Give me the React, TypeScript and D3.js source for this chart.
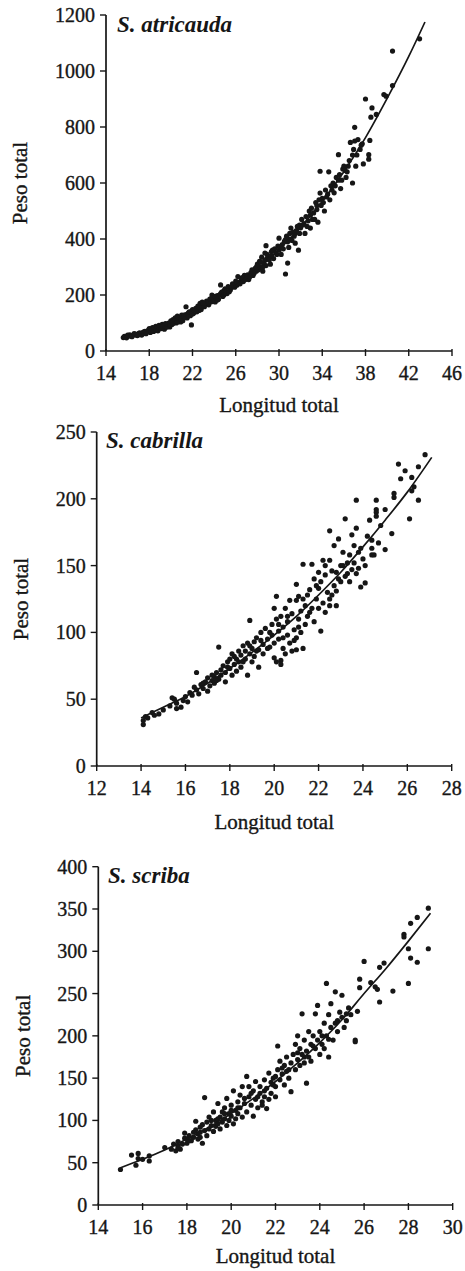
import React from 'react';
import * as d3 from 'd3';

// ---------- DATA ----------
const titles = ['S. atricauda', 'S. cabrilla', 'S. scriba'];
const xTitle = 'Longitud total';
const yTitle = 'Peso total';

const atricaudaXTicks = [14, 18, 22, 26, 30, 34, 38, 42, 46];
const atricaudaYTicks = [0, 200, 400, 600, 800, 1000, 1200];
const cabrillaXTicks = [12, 14, 16, 18, 20, 22, 24, 26, 28];
const cabrillaYTicks = [0, 50, 100, 150, 200, 250];
const scribaXTicks = [14, 16, 18, 20, 22, 24, 26, 28, 30];
const scribaYTicks = [0, 50, 100, 150, 200, 250, 300, 350, 400];

const atricaudaCurveL = [15.5, 18, 20, 22, 24, 26, 28, 30, 32, 34, 36, 38, 40, 42, 43.5];
const atricaudaCurveW = [48, 76, 105, 140, 183, 233, 293, 362, 442, 534, 640, 762, 902, 1052, 1175];

const cabrillaCurveL = [14, 15, 16, 17, 18, 19, 20, 21, 22, 23, 24, 25, 26, 27.1];
const cabrillaCurveW = [36, 44, 52, 62, 73, 85, 98, 112, 128, 145, 164, 184, 205, 231];

const scribaCurveL = [15, 16, 17, 18, 19, 20, 21, 22, 23, 24, 25, 26, 27, 28, 29];
const scribaCurveW = [44, 54, 65, 78, 92, 108, 126, 146, 168, 192, 219, 250, 280, 312, 345];

const atricaudaPoints: [number, number][] = [
  [15.6, 48], [15.8, 50], [16.0, 52], [16.1, 55], [16.3, 54], [16.2, 58], [16.5, 56], [16.7, 60], [16.8, 57], [17.0, 62],
  [17.1, 65], [17.2, 60], [17.4, 66], [17.5, 63], [17.6, 70], [17.8, 68],
  [18.0, 72], [18.0, 80], [18.1, 66], [18.2, 75], [18.3, 84], [18.4, 70], [18.5, 78], [18.6, 88], [18.7, 74], [18.8, 82],
  [18.9, 92], [19.0, 80], [19.1, 86], [19.2, 95], [19.3, 88], [19.4, 78], [19.5, 98], [19.6, 92], [19.8, 100], [19.9, 86],
  [20.0, 108], [20.1, 95], [20.2, 112], [20.3, 102], [20.4, 118], [20.5, 100], [20.6, 125], [20.7, 110], [20.8, 120], [20.9, 104],
  [21.0, 128], [21.1, 115], [21.2, 122], [21.4, 130], [21.4, 158], [21.5, 118], [21.6, 135], [21.8, 126], [21.9, 93], [21.9, 142],
  [22.0, 148], [22.1, 135], [22.3, 152], [22.4, 140], [22.5, 160], [22.6, 145], [22.7, 170], [22.8, 155], [22.9, 175], [23.0, 162],
  [23.2, 168], [23.3, 178], [23.5, 165], [23.6, 185], [23.8, 200], [23.9, 178],
  [24.0, 190], [24.1, 175], [24.3, 198], [24.4, 185], [24.6, 236], [24.6, 205], [24.8, 195], [24.9, 215], [25.0, 222], [25.2, 205],
  [25.3, 230], [25.5, 218], [25.7, 240], [25.9, 228],
  [26.0, 250], [26.1, 235], [26.2, 266], [26.3, 245], [26.5, 258], [26.7, 248], [26.8, 270], [27.0, 262], [27.2, 255], [27.4, 280],
  [27.6, 270], [27.8, 295], [27.9, 285],
  [28.0, 310], [28.1, 290], [28.2, 320], [28.3, 300], [28.4, 335], [28.5, 285], [28.6, 315], [28.7, 350], [28.8, 305], [28.8, 376],
  [28.9, 330], [29.0, 340], [29.2, 310], [29.3, 355], [29.5, 330], [29.6, 365], [29.8, 345], [29.9, 375],
  [30.0, 403], [30.0, 360], [30.2, 345], [30.3, 380], [30.5, 392], [30.6, 275], [30.8, 314], [30.7, 410], [30.9, 370], [31.0, 420],
  [31.1, 439], [31.2, 395], [31.4, 410], [31.5, 385], [31.6, 430], [31.8, 360], [31.9, 450],
  [32.0, 440], [32.1, 470], [32.3, 455], [32.4, 420], [32.5, 480], [32.7, 465], [32.8, 500], [32.9, 439], [33.0, 510], [33.2, 493],
  [33.3, 470], [33.4, 530], [33.5, 505], [33.6, 460], [33.8, 642], [33.8, 564], [33.9, 520],
  [34.0, 545], [34.2, 500], [34.3, 575], [34.5, 560], [34.6, 640], [34.7, 540], [34.8, 590], [35.0, 600], [35.1, 565], [35.3, 620],
  [35.5, 701], [35.5, 610], [35.7, 580], [35.9, 650],
  [36.0, 660], [36.2, 620], [36.3, 640], [36.5, 680], [36.6, 745], [36.8, 600], [36.8, 700], [37.0, 799], [37.0, 750], [37.1, 660],
  [37.3, 755], [37.5, 720], [37.7, 740],
  [37.8, 668], [38.0, 900], [38.3, 701], [38.3, 685], [38.4, 752], [38.5, 835], [38.6, 868], [39.0, 845], [39.7, 916], [39.9, 910],
  [40.5, 948], [40.5, 1071], [43.0, 1115],
  [15.7, 52], [15.9, 47], [16.0, 57], [16.4, 51], [16.6, 62], [16.9, 55], [17.0, 58], [17.3, 63], [17.3, 57], [17.5, 68],
  [17.7, 62], [17.9, 74], [18.1, 78], [18.2, 70], [18.4, 82], [18.6, 76], [18.8, 72], [18.9, 86], [19.1, 80], [19.2, 88],
  [19.4, 92], [19.6, 85], [19.7, 96], [19.9, 94], [20.1, 102], [20.2, 98], [20.4, 108], [20.6, 104], [20.7, 118], [20.9, 114],
  [21.1, 108], [21.2, 128], [21.3, 120], [21.6, 125], [21.7, 140], [22.0, 132], [22.2, 144], [22.4, 150], [22.6, 155], [22.8, 148],
  [23.0, 170], [23.1, 158], [23.4, 172], [23.7, 175], [23.8, 190], [24.1, 195], [24.3, 182], [24.5, 200], [24.7, 210], [24.9, 200],
  [25.1, 214], [25.4, 212], [25.6, 228], [25.8, 235], [26.1, 245], [26.4, 240], [26.6, 262], [26.9, 255], [27.1, 272], [27.3, 265],
  [27.5, 290], [27.7, 278], [27.9, 300], [28.1, 305], [28.3, 318], [28.5, 300], [28.7, 325], [28.9, 345], [29.1, 325], [29.3, 340],
  [29.4, 360], [29.7, 350], [30.1, 372], [30.4, 365], [30.6, 398], [30.8, 390], [31.0, 400], [31.3, 425], [31.5, 420], [31.7, 445],
  [31.9, 420], [32.2, 450], [32.6, 445], [32.9, 485], [33.1, 470], [33.5, 520], [33.7, 540], [34.1, 530], [34.4, 550], [34.9, 575],
  [35.2, 590], [35.6, 630], [35.8, 610], [36.1, 645], [36.4, 660], [36.9, 720], [37.2, 700], [37.6, 735],
];

const cabrillaPoints: [number, number][] = [
  [14.1, 31], [14.1, 34], [14.2, 37], [14.3, 36], [14.5, 40], [14.6, 38], [14.8, 39], [15.0, 42],
  [15.3, 45], [15.4, 51], [15.5, 50], [15.6, 47], [15.6, 43], [15.8, 44], [15.9, 49], [16.0, 52], [16.1, 48],
  [16.2, 55], [16.3, 53], [16.4, 59], [16.5, 70], [16.5, 57], [16.6, 54], [16.7, 61], [16.8, 58], [16.9, 63], [17.0, 56],
  [17.0, 66], [17.1, 60], [17.2, 64],
  [17.3, 67], [17.3, 62], [17.4, 70], [17.5, 65], [17.5, 89], [17.6, 72], [17.6, 68], [17.7, 75], [17.8, 70], [17.8, 63],
  [17.9, 78], [18.0, 73], [18.0, 80], [18.1, 68],
  [18.1, 84], [18.2, 76], [18.3, 80], [18.3, 71], [18.4, 86], [18.4, 78], [18.5, 83], [18.5, 74], [18.6, 90], [18.7, 80],
  [18.7, 86], [18.8, 68], [18.8, 92], [18.9, 109], [18.9, 84], [19.0, 88], [19.0, 78], [19.1, 93],
  [19.1, 82], [19.2, 96], [19.3, 87], [19.3, 74], [19.4, 100], [19.5, 91], [19.5, 84], [19.6, 103], [19.7, 95], [19.8, 89],
  [19.9, 106], [19.9, 98], [20.0, 118], [20.0, 92], [20.0, 81],
  [20.1, 127], [20.1, 110], [20.1, 78], [20.2, 101], [20.2, 95], [20.3, 112], [20.3, 79], [20.3, 76], [20.4, 104], [20.4, 88],
  [20.5, 84], [20.5, 118], [20.6, 98], [20.6, 108], [20.7, 124], [20.7, 92], [20.8, 114], [20.8, 86], [20.9, 102], [21.0, 124],
  [21.0, 136], [21.0, 87], [21.0, 96],
  [21.1, 127], [21.1, 110], [21.2, 116], [21.2, 100], [21.3, 151], [21.3, 88], [21.4, 120], [21.4, 106], [21.5, 128], [21.5, 112],
  [21.6, 132], [21.7, 151], [21.7, 118], [21.8, 140], [21.8, 108], [21.9, 125], [22.0, 145], [22.0, 133],
  [22.1, 101], [22.1, 138], [22.2, 154], [22.2, 122], [22.3, 143], [22.3, 115], [22.4, 130], [22.5, 176], [22.5, 154], [22.5, 125],
  [22.5, 120], [22.6, 146], [22.7, 165], [22.7, 135], [22.8, 131], [22.8, 145], [22.8, 120], [22.9, 170], [23.0, 150], [23.0, 138],
  [23.1, 150], [23.2, 185], [23.2, 142], [23.3, 144], [23.4, 138], [23.4, 158], [23.5, 173], [23.5, 147], [23.6, 152], [23.7, 199],
  [23.7, 178], [23.7, 144], [23.8, 160], [23.9, 163], [23.9, 134], [24.0, 155],
  [24.1, 150], [24.1, 137], [24.3, 184], [24.4, 169], [24.4, 163], [24.4, 158], [24.6, 199], [24.6, 192], [24.6, 190], [24.6, 187],
  [24.7, 167], [25.0, 192], [25.0, 162],
  [25.3, 174], [25.4, 204], [25.4, 201], [25.6, 226], [25.7, 215], [25.9, 221], [26.1, 185], [26.2, 216], [26.2, 206], [26.3, 209],
  [26.5, 224], [26.5, 199], [26.8, 233],
  [16.8, 62], [17.2, 68], [17.4, 64], [17.9, 74], [18.2, 82], [18.6, 78], [18.9, 90], [19.2, 86], [19.4, 94], [19.7, 88],
  [19.8, 100], [20.2, 106], [20.4, 96], [20.6, 112], [20.9, 94], [21.1, 104], [21.3, 125], [21.6, 115], [21.9, 135], [22.0, 118],
  [22.3, 150], [22.6, 128], [22.9, 140], [23.1, 160], [23.3, 152], [23.6, 165], [23.8, 148], [24.2, 172], [24.5, 158], [24.8, 180],
];

const scribaPoints: [number, number][] = [
  [15.0, 42], [15.5, 59], [15.7, 47], [15.8, 61], [15.8, 55], [16.0, 54], [16.3, 58], [16.3, 52], [17.0, 68],
  [17.3, 66], [17.4, 72], [17.5, 64], [17.6, 70], [17.6, 75], [17.7, 66], [17.8, 72], [17.9, 79], [17.9, 85], [18.0, 73],
  [18.0, 78], [18.1, 82], [18.2, 76],
  [18.3, 80], [18.4, 89], [18.4, 99], [18.5, 84], [18.5, 78], [18.6, 92], [18.6, 86], [18.7, 73], [18.7, 95], [18.8, 127],
  [18.8, 88], [18.9, 82], [18.9, 98], [19.0, 90], [19.0, 104], [19.1, 94], [19.2, 87], [19.2, 110], [19.3, 100], [19.3, 93],
  [19.4, 120], [19.4, 96], [19.5, 104], [19.5, 90], [19.6, 110], [19.6, 98], [19.7, 115], [19.7, 102], [19.8, 94], [19.8, 126],
  [19.9, 108], [19.9, 100], [20.0, 118], [20.0, 105], [20.1, 96], [20.1, 135], [20.2, 112], [20.2, 102], [20.3, 122], [20.3, 108],
  [20.4, 130], [20.4, 115], [20.5, 104], [20.5, 140],
  [20.6, 120], [20.7, 152], [20.7, 110], [20.8, 128], [20.8, 140], [20.9, 118], [21.0, 135], [21.0, 105], [21.1, 125], [21.1, 146],
  [21.2, 115], [21.3, 132], [21.3, 140], [21.4, 122], [21.5, 128], [21.5, 148],
  [21.6, 114], [21.6, 138], [21.7, 156], [21.7, 125], [21.8, 145], [21.8, 132], [21.9, 150], [22.0, 140], [22.0, 128], [22.1, 188],
  [22.1, 160], [22.2, 148], [22.2, 170], [22.3, 155], [22.4, 165], [22.4, 142], [22.5, 158], [22.5, 175],
  [22.6, 150], [22.7, 134], [22.7, 168], [22.8, 178], [22.9, 160], [22.9, 190], [23.0, 172], [23.0, 200], [23.1, 165], [23.1, 185],
  [23.2, 226], [23.2, 178], [23.3, 195], [23.3, 168], [23.4, 144], [23.4, 182], [23.5, 205], [23.5, 175],
  [23.6, 190], [23.6, 170], [23.7, 200], [23.8, 185], [23.8, 226], [23.9, 195], [23.9, 236], [24.0, 178], [24.0, 205], [24.1, 190],
  [24.2, 215], [24.2, 185], [24.3, 262], [24.3, 200], [24.4, 175], [24.4, 225], [24.5, 238], [24.5, 210],
  [24.6, 195], [24.7, 252], [24.7, 215], [24.8, 205], [24.9, 228], [25.0, 248], [25.0, 222], [25.1, 210], [25.2, 218], [25.3, 233],
  [25.4, 225], [25.6, 195], [25.6, 193], [25.7, 229],
  [25.8, 267], [25.8, 257], [26.0, 288], [26.3, 263], [26.5, 258], [26.6, 255], [26.7, 281], [26.7, 240], [26.9, 286], [27.3, 253],
  [27.8, 320], [27.8, 317], [28.0, 303], [28.0, 262], [28.1, 333], [28.1, 292], [28.4, 340], [28.4, 287], [28.9, 351], [28.9, 303],
  [17.6, 68], [18.1, 76], [18.3, 86], [18.6, 80], [19.1, 100], [19.4, 102], [19.7, 108], [20.0, 112], [20.3, 115], [20.6, 126],
  [20.9, 132], [21.2, 128], [21.5, 135], [21.9, 142], [22.3, 162], [22.6, 160], [23.0, 180], [23.3, 175], [23.7, 188], [24.1, 200],
  [24.4, 196], [24.8, 218], [25.2, 226], [22.0, 152], [21.4, 118],
];

// ---------- LAYOUT ----------
type Panel = {
  title: string;
  points: [number, number][];
  curveL: number[];
  curveW: number[];
  xTicks: number[];
  yTicks: number[];
  left: number; right: number; top: number; bottom: number;
  titleX: number; titleY: number;
  xTitleDy: number; yTitleX: number; r: number;
};

const panels: Panel[] = [
  {
    title: titles[0], points: atricaudaPoints, curveL: atricaudaCurveL, curveW: atricaudaCurveW,
    xTicks: atricaudaXTicks, yTicks: atricaudaYTicks,
    left: 106, right: 452, top: 15, bottom: 351,
    titleX: 117, titleY: 32, xTitleDy: 61, yTitleX: 27, r: 2.6,
  },
  {
    title: titles[1], points: cabrillaPoints, curveL: cabrillaCurveL, curveW: cabrillaCurveW,
    xTicks: cabrillaXTicks, yTicks: cabrillaYTicks,
    left: 96.7, right: 451.7, top: 432, bottom: 766,
    titleX: 106, titleY: 448, xTitleDy: 63, yTitleX: 28, r: 2.6,
  },
  {
    title: titles[2], points: scribaPoints, curveL: scribaCurveL, curveW: scribaCurveW,
    xTicks: scribaXTicks, yTicks: scribaYTicks,
    left: 98.3, right: 452.7, top: 866.7, bottom: 1205,
    titleX: 108, titleY: 883, xTitleDy: 58, yTitleX: 30, r: 2.6,
  },
];

const INK = '#161616';
const FONT = '"Liberation Serif", "Times New Roman", serif';

function PanelView({ p }: { p: Panel }) {
  const xs = p.xTicks;
  const ys = p.yTicks;
  const x = d3.scaleLinear().domain([xs[0], xs[xs.length - 1]]).range([p.left, p.right]);
  const y = d3.scaleLinear().domain([ys[0], ys[ys.length - 1]]).range([p.bottom, p.top]);
  const curvePts: [number, number][] = p.curveL.map((l, i) => [l, p.curveW[i]]);
  const line = d3.line<[number, number]>()
    .x((d) => x(d[0]))
    .y((d) => y(d[1]))
    .curve(d3.curveMonotoneX);
  const cx = (p.left + p.right) / 2;
  const cy = (p.top + p.bottom) / 2;
  const textStroke = { stroke: INK, strokeWidth: 0.35 };
  return (
    <g>
      {p.points.map((d, i) => (
        <circle key={i} cx={x(d[0])} cy={y(d[1])} r={p.r} fill={INK} />
      ))}
      <path d={line(curvePts) || ''} fill="none" stroke={INK} strokeWidth={1.7} />
      <line x1={p.left} x2={p.left} y1={p.top} y2={p.bottom} stroke={INK} strokeWidth={1.7} />
      <line x1={p.left} x2={p.right} y1={p.bottom} y2={p.bottom} stroke={INK} strokeWidth={1.7} />
      {ys.map((t) => (
        <g key={'y' + t}>
          <line x1={p.left - 6} x2={p.left} y1={y(t)} y2={y(t)} stroke={INK} strokeWidth={1.4} />
          <text x={p.left - 11} y={y(t)} dy="0.35em" textAnchor="end" fontSize={20} fontFamily={FONT} fill={INK} {...textStroke}>
            {t}
          </text>
        </g>
      ))}
      {xs.map((t) => (
        <g key={'x' + t}>
          <line x1={x(t)} x2={x(t)} y1={p.bottom - 2} y2={p.bottom + 5} stroke={INK} strokeWidth={1.4} />
          <text x={x(t)} y={p.bottom + 29} textAnchor="middle" fontSize={20} fontFamily={FONT} fill={INK} {...textStroke}>
            {t}
          </text>
        </g>
      ))}
      <text x={cx} y={p.bottom + p.xTitleDy} textAnchor="middle" fontSize={21} fontFamily={FONT} fill={INK} {...textStroke}>
        {xTitle}
      </text>
      <text
        transform={`translate(${p.yTitleX},${cy}) rotate(-90)`}
        textAnchor="middle"
        fontSize={21}
        fontFamily={FONT}
        fill={INK}
        {...textStroke}
      >
        {yTitle}
      </text>
      <text x={p.titleX} y={p.titleY} fontSize={23} fontWeight="bold" fontStyle="italic" fontFamily={FONT} fill={INK}>
        {p.title}
      </text>
    </g>
  );
}

export default function App() {
  return (
    <svg
      width={465}
      height={1271}
      viewBox="0 0 465 1271"
      style={{ position: 'absolute', left: 0, top: 0, background: '#fff' }}
    >
      <rect x={0} y={0} width={465} height={1271} fill="#fff" />
      {panels.map((p, i) => (
        <PanelView key={i} p={p} />
      ))}
    </svg>
  );
}
